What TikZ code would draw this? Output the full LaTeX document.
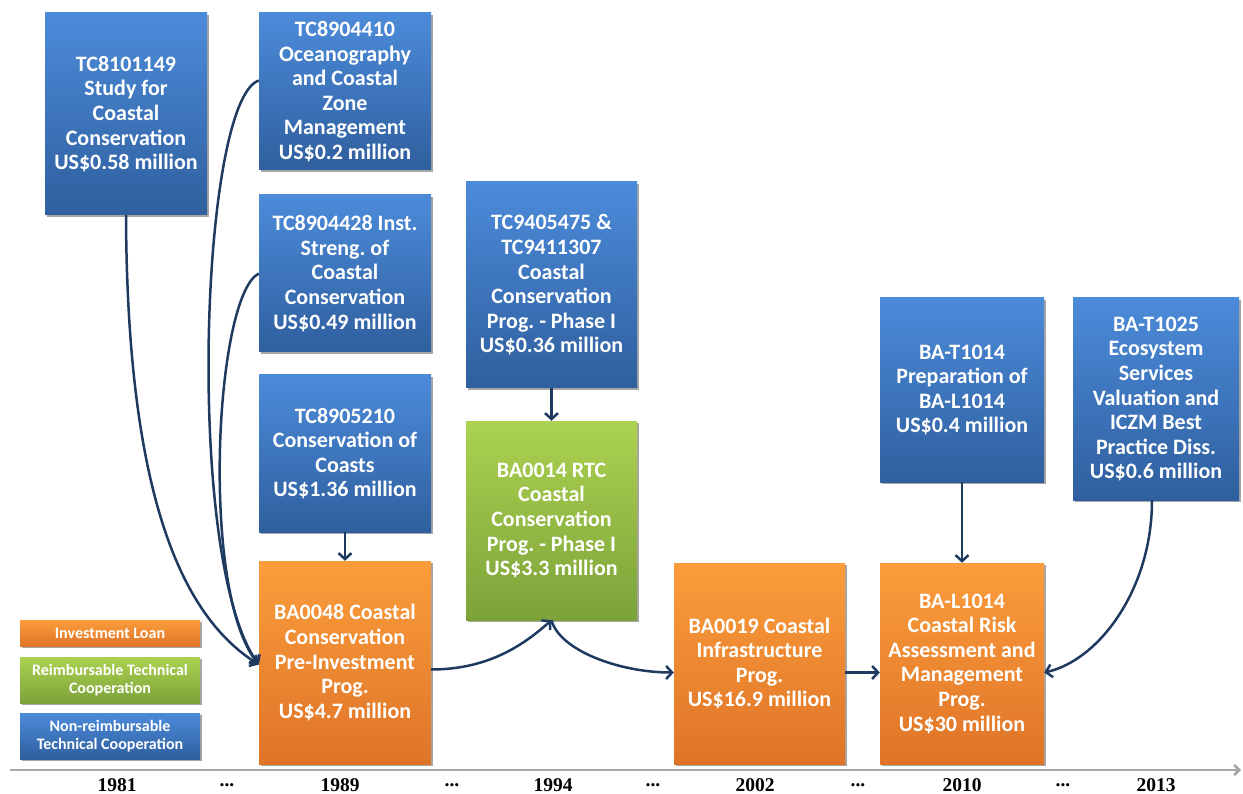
\documentclass[tikz,border=0pt]{standalone}
\usepackage{fontspec}
\setmainfont{Carlito}
\newfontfamily\yearfont{Liberation Serif}
\usetikzlibrary{arrows.meta,shadows}
\frenchspacing
\definecolor{bluetop}{HTML}{4C8BDA}
\definecolor{bluebot}{HTML}{2F5F9E}
\definecolor{orgtop}{HTML}{FB9D3B}
\definecolor{orgbot}{HTML}{DF7428}
\definecolor{grntop}{HTML}{ABD250}
\definecolor{grnbot}{HTML}{7DA23A}
\definecolor{arrowc}{HTML}{1F3A60}
\definecolor{axisc}{HTML}{A6A6A6}
\tikzset{
  boxbase/.style={inner sep=0pt, align=center, text=white,
    font=\fontsize{22}{24.6}\selectfont\bfseries,
    drop shadow={shadow xshift=2pt, shadow yshift=-2pt, opacity=0.35, fill=black}},
  bluebox/.style={boxbase, top color=bluetop, bottom color=bluebot},
  orangebox/.style={boxbase, top color=orgtop, bottom color=orgbot},
  greenbox/.style={boxbase, top color=grntop, bottom color=grnbot},
  legbox/.style={font=\fontsize{16}{18}\selectfont\bfseries,
    minimum width=180pt},
  conn/.style={draw=arrowc, line width=2.5pt, -{Straight Barb[length=6pt,width=13pt]}},
  yearlab/.style={font=\yearfont\fontsize{19.5}{21}\selectfont\bfseries, text=black, inner sep=1pt},
}
\begin{document}
\begin{tikzpicture}[x=1pt,y=1pt]
\useasboundingbox (0,0) rectangle (1243,-794);
% boxes
\node[bluebox, minimum width=162pt, minimum height=202pt] (A) at (126,-114)
  {TC8101149\\Study for\\Coastal\\Conservation\\US\$0.58 million};
\node[bluebox, minimum width=172pt, minimum height=157pt] (B) at (345,-91.5)
  {TC8904410\\Oceanography\\and Coastal\\Zone\\Management\\US\$0.2 million};
\node[bluebox, minimum width=172pt, minimum height=157pt] (C) at (345,-273.5)
  {TC8904428 Inst.\\Streng. of\\Coastal\\Conservation\\US\$0.49 million};
\node[bluebox, minimum width=172pt, minimum height=157pt] (D) at (345,-453.5)
  {TC8905210\\Conservation of\\Coasts\\US\$1.36 million};
\node[orangebox, minimum width=172pt, minimum height=203pt] (E) at (345,-662.5)
  {BA0048 Coastal\\Conservation\\Pre-Investment\\Prog.\\US\$4.7 million};
\node[bluebox, minimum width=171pt, minimum height=206pt] (F) at (551.5,-285)
  {TC9405475 \&\\TC9411307\\Coastal\\Conservation\\Prog. - Phase I\\US\$0.36 million};
\node[greenbox, minimum width=171pt, minimum height=199pt] (G) at (551.5,-520.5)
  {BA0014 RTC\\Coastal\\Conservation\\Prog. - Phase I\\US\$3.3 million};
\node[orangebox, minimum width=171pt, minimum height=201pt] (H) at (759.5,-663.5)
  {BA0019 Coastal\\Infrastructure\\Prog.\\US\$16.9 million};
\node[bluebox, minimum width=164pt, minimum height=184pt] (I) at (962,-390)
  {BA-T1014\\Preparation of\\BA-L1014\\US\$0.4 million};
\node[orangebox, minimum width=164pt, minimum height=201pt] (J) at (962,-663.5)
  {BA-L1014\\Coastal Risk\\Assessment and\\Management\\Prog.\\US\$30 million};
\node[bluebox, minimum width=166pt, minimum height=202pt] (K) at (1156,-399)
  {BA-T1025\\Ecosystem\\Services\\Valuation and\\ICZM Best\\Practice Diss.\\US\$0.6 million};
% legend
\node[orangebox, legbox, minimum height=26pt] (L1) at (110,-633) {Investment Loan};
\node[greenbox, legbox, minimum height=46pt] (L2) at (110,-680) {Reimbursable Technical\\Cooperation};
\node[bluebox, legbox, minimum height=46pt] (L3) at (110,-736) {Non-reimbursable\\Technical Cooperation};
% connectors
\draw[conn] (A.south) .. controls +(1,-265) and +(-83,52) .. ([yshift=-2pt]E.west);
\draw[conn] ([yshift=11pt]B.west) .. controls +(-59,-20) and +(-74,102) .. ([yshift=-2pt]E.west);
\draw[conn] (C.west) .. controls +(-44,-22) and +(-59,72) .. ([yshift=-2pt]E.west);
\draw[conn] (D.south) -- (E.north);
\draw[conn] (F.south) -- (G.south |- G.north);
\draw[conn] ([yshift=-7pt]E.east) .. controls +(60,0) and +(-25,-22) .. (G.south);
\draw[conn] (G.south) .. controls +(8,-30) and +(-55,0) .. ([yshift=-9pt]H.west);
\draw[conn] ([yshift=-9pt]H.east) -- ([yshift=-9pt]J.west);
\draw[conn] (I.south) -- (J.north);
\draw[conn] ([xshift=-4pt]K.south) .. controls +(0,-90) and +(54,12) .. ([yshift=-9pt]J.east);
% axis
\coordinate (axL) at (10,-770);
\coordinate (axR) at (1241,-770);
\draw[axisc, line width=2.5pt, -{Straight Barb[length=5pt,width=10pt]}] (axL) -- (axR);
% years
\node[yearlab] (y1) at (117,-785) {1981};
\node[yearlab] (d1) at (227,-785) {...};
\node[yearlab] (y2) at (340,-785) {1989};
\node[yearlab] (d2) at (452,-785) {...};
\node[yearlab] (y3) at (553,-785) {1994};
\node[yearlab] (d3) at (653,-785) {...};
\node[yearlab] (y4) at (755,-785) {2002};
\node[yearlab] (d4) at (858,-785) {...};
\node[yearlab] (y5) at (962,-785) {2010};
\node[yearlab] (d5) at (1063,-785) {...};
\node[yearlab] (y6) at (1156,-785) {2013};
\end{tikzpicture}
\end{document}
